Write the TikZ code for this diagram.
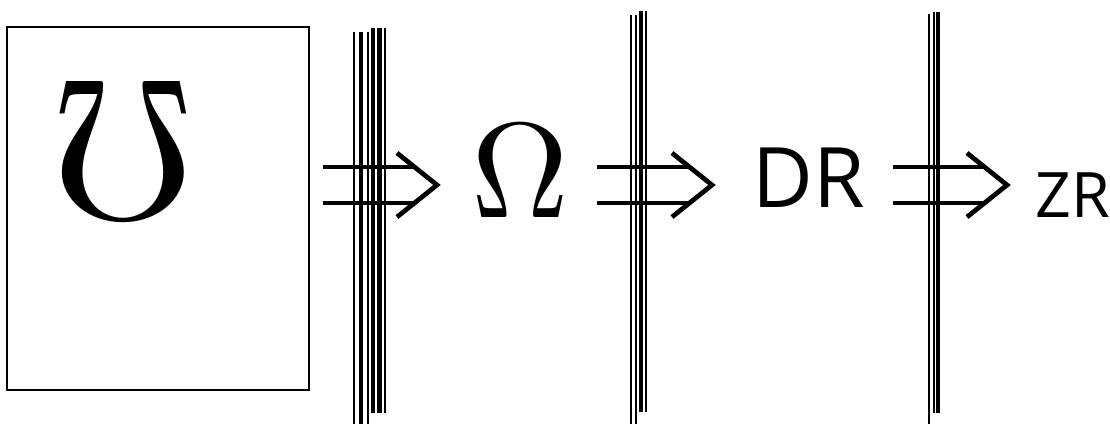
\documentclass[tikz,border=0pt]{standalone}
\usepackage{fontspec}
\newfontfamily\sansfont{Open Sans}
\usetikzlibrary{calc}

% doppelpfeil mit offener spitze
\newcommand{\implyarrow}[2]{%
  \draw[arrowline] ($(#1)+(0,-18)$) -- ($(#2)+(-22,-18)$);
  \draw[arrowline] ($(#1)+(0,18)$) -- ($(#2)+(-22,18)$);
  \draw[arrowline,line join=miter] ($(#2)+(-40,-32)$) -- (#2) -- ($(#2)+(-40,32)$);
}

\tikzset{
  arrowline/.style={line width=2.7pt},
  bigsym/.style={inner sep=0pt},
  sanslabel/.style={inner sep=0pt,anchor=base west}
}

\begin{document}
\begin{tikzpicture}[x=0.02cm,y=-0.02cm,line width=1pt]
  \useasboundingbox (0,0) rectangle (1110,424);

  % kasten mit gestuerztem omega
  \draw (7,27) rectangle (309,390);
  \node[bigsym,scale=11.4,rotate=180] (mho) at (123,150) {$\Omega$};

  % symbole
  \node[bigsym,scale=7.7] (omega) at (520,171) {$\Omega$};
  \node[sanslabel,font=\sansfont\fontsize{47.5}{50}\selectfont] (dr) at (752,207) {DR};
  \node[sanslabel,font=\sansfont\fontsize{35.7}{40}\selectfont] (zr) at (1035,217) {ZR};

  % pfeile
  \coordinate (s1) at (323,185);
  \coordinate (t1) at (437,185);
  \coordinate (s2) at (597,185);
  \coordinate (t2) at (712,185);
  \coordinate (s3) at (893,185);
  \coordinate (t3) at (1007,185);
  \implyarrow{s1}{t1}
  \implyarrow{s2}{t2}
  \implyarrow{s3}{t3}

  % senkrechte striche
  \foreach \x/\w/\ya/\yb in {354/2/32/424, 361/5/32/424, 368/2/32/424,
                             373/4/28/413, 379.5/5/28/413, 385/2/28/413,
                             631/2/15/424, 636/2/15/424, 641/4/11/412, 645.5/2/11/412,
                             929/2.5/14/424, 934/2/12/413, 938/4/12/413}
    \draw[line width=\w*0.567pt] (\x,\ya) -- (\x,\yb);
\end{tikzpicture}
\end{document}
